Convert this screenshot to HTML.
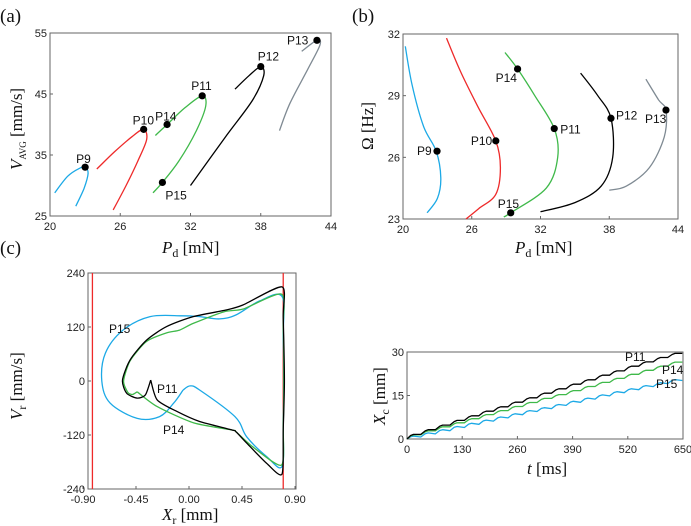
<!DOCTYPE html>
<html><head><meta charset="utf-8">
<style>
html,body{margin:0;padding:0;background:#fff;}
svg{display:block;}
.tk{font-family:"Liberation Sans",sans-serif;font-size:11px;fill:#222;}
.pl{font-family:"Liberation Sans",sans-serif;font-size:12px;fill:#111;}
.ax{font-family:"Liberation Serif",serif;font-size:17px;fill:#111;}
.pn{font-family:"Liberation Serif",serif;font-size:19px;fill:#111;}
</style></head>
<body>
<svg id="fig" width="691" height="526" viewBox="0 0 691 526" xmlns="http://www.w3.org/2000/svg">
<text class="pn" x="0" y="22">(a)</text>
<text class="pn" x="352" y="22">(b)</text>
<text class="pn" x="0" y="254">(c)</text>
<text class="ax" x="162" y="253"><tspan font-style="italic">P</tspan><tspan font-size="12" dy="4">d</tspan><tspan dy="-4"> [mN]</tspan></text>
<text class="ax" x="515" y="253"><tspan font-style="italic">P</tspan><tspan font-size="12" dy="4">d</tspan><tspan dy="-4"> [mN]</tspan></text>
<text class="ax" transform="translate(22,170) rotate(-90)"><tspan font-style="italic">V</tspan><tspan font-size="9" dy="4">AVG</tspan><tspan dy="-4"> [mm/s]</tspan></text>
<text class="ax" transform="translate(373,150) rotate(-90)">Ω [Hz]</text>
<text class="ax" transform="translate(22,420) rotate(-90)"><tspan font-style="italic">V</tspan><tspan font-size="12" dy="4">r</tspan><tspan dy="-4"> [mm/s]</tspan></text>
<text class="ax" x="162" y="520"><tspan font-style="italic">X</tspan><tspan font-size="12" dy="4">r</tspan><tspan dy="-4"> [mm]</tspan></text>
<text class="ax" transform="translate(385,425) rotate(-90)"><tspan font-style="italic">X</tspan><tspan font-size="12" dy="4">c</tspan><tspan dy="-4"> [mm]</tspan></text>
<text class="ax" x="527" y="474"><tspan font-style="italic">t</tspan> [ms]</text>
</svg>
<script>
var NS="http://www.w3.org/2000/svg";
var svg=document.getElementById('fig');
// ---- Panel (a) data ----
var aXTicks=[20,26,32,38,44];
var aYTicks=[25,35,45,55];
var aBlueX=[20.4,21.5,22.5,23.0,23.25,22.9,22.2];
var aBlueY=[28.8,31.5,32.8,33.0,32.0,29.5,26.6];
var aRedX=[24.0,25.5,27.0,28.0,28.25,27.5,26.5,25.4];
var aRedY=[32.7,35.5,38.0,39.2,37.5,34.0,30.0,26.0];
var aGreenX=[29.0,30.0,31.5,33.0,33.3,32.5,31.0,29.6,28.8];
var aGreenY=[38.2,40.0,42.7,44.7,43.0,39.0,34.0,30.5,28.8];
var aBlackX=[35.8,37.0,38.0,38.25,37.3,35.0,32.0];
var aBlackY=[45.8,48.0,49.5,48.0,44.0,38.0,30.0];
var aGrayX=[41.5,42.8,43.05,42.0,40.5,39.6];
var aGrayY=[52.0,53.8,53.0,49.0,43.5,39.0];
var aPtNames=['P9','P10','P14','P11','P12','P13','P15'];
var aPtX=[23.0,28.0,30.0,33.0,38.0,42.8,29.6];
var aPtY=[33.0,39.2,40.0,44.7,49.5,53.8,30.5];
// ---- Panel (b) data ----
var bXTicks=[20,26,32,38,44];
var bYTicks=[23,26,29,32];
var bBlueX=[20.2,20.8,21.8,22.9,23.3,23.0,22.1];
var bBlueY=[31.4,29.5,27.5,26.3,25.0,24.0,23.3];
var bRedX=[23.8,25.0,26.5,28.1,28.5,28.1,26.6,25.5];
var bRedY=[31.8,30.2,28.5,26.8,25.5,24.2,23.5,23.0];
var bGreenX=[28.9,30.0,31.5,33.2,33.5,32.5,29.4,28.8];
var bGreenY=[31.1,30.3,29.0,27.4,26.0,24.5,23.3,23.1];
var bBlackX=[35.5,37.0,38.15,38.3,37.3,35.0,32.0];
var bBlackY=[30.1,29.0,27.9,26.0,24.6,23.8,23.35];
var bGrayX=[41.2,42.3,42.95,42.8,41.5,39.5,38.0];
var bGrayY=[29.8,28.8,28.3,27.0,25.5,24.6,24.4];
var bPtNames=['P9','P10','P14','P11','P12','P13','P15'];
var bPtX=[22.97,28.1,30.0,33.2,38.15,42.95,29.4];
var bPtY=[26.3,26.8,30.3,27.4,27.9,28.3,23.3];
// ---- Panel (c) data ----
var cXTicks=[-0.90,-0.45,0.00,0.45,0.90];
var cYTicks=[-240,-120,0,120,240];
var cWalls=[-0.82,0.80];
var cBlackX=[-0.325,-0.27,-0.10,0.09,0.37,0.40,0.49,0.66,0.79,0.80,0.81,0.80,0.79,0.46,0.32,0.036,-0.19,-0.36,-0.50,-0.565,-0.53,-0.44,-0.37,-0.325];
var cBlackY=[2,-42,-68,-90,-109,-113,-138,-183,-207,-109,0,142,209,169,158,143,121,91,47,2,-27,-38,-31,2];
var cGreenX=[-0.44,-0.27,0.04,0.37,0.40,0.54,0.785,0.80,0.805,0.80,0.785,0.46,0.30,0.036,-0.08,-0.19,-0.36,-0.50,-0.555,-0.52,-0.48,-0.44];
var cGreenY=[-24,-57,-93,-109,-113,-146,-187,-100,0,120,193,160,154,128,113,107,88,45,0,-25,-30,-24];
var cBlueX=[-0.05,0.01,0.09,0.39,0.49,0.66,0.79,0.80,0.805,0.80,0.79,0.60,0.40,0.26,0.09,-0.06,-0.33,-0.56,-0.71,-0.74,-0.67,-0.44,-0.25,-0.13,-0.05];
var cBlueY=[-20,-11,-20,-79,-124,-168,-190,-100,0,100,188,178,147,138,143,145,143,113,62,0,-49,-83,-79,-49,-20];
// ---- Panel (d) data ----
var dXTicks=[0,130,260,390,520,650];
var dYTicks=[0,15,30];
var dBlack=[1.6,3.2,4.8,6.4,8.0,9.6,11.1,12.7,14.2,15.8,17.3,18.9,20.4,22.0,23.5,25.1,26.6,28.1,29.5];
var dGreen=[1.4,2.8,4.2,5.6,7.0,8.4,9.8,11.2,12.6,14.0,15.3,16.7,18.1,19.5,20.9,22.3,23.7,25.1,26.5];
var dBlue=[1.0,2.1,3.2,4.3,5.4,6.5,7.6,8.7,9.8,10.8,11.9,13.0,14.1,15.2,16.3,17.3,18.4,19.4,20.5];

var BLUE='#1ca9e6',RED='#ee2a2a',GREEN='#3fb94a',BLACK='#000',GRAY='#7f8a93';
function el(tag,attrs,parent){var e=document.createElementNS(NS,tag);for(var k in attrs)e.setAttribute(k,attrs[k]);(parent||svg).appendChild(e);return e;}
function lin(d0,d1,p0,p1){return function(v){return p0+(v-d0)*(p1-p0)/(d1-d0);};}
function smooth(pts,k){
  k=k||(1/6);
  var d='M'+pts[0][0].toFixed(1)+','+pts[0][1].toFixed(1);
  for(var i=0;i<pts.length-1;i++){
    var p0=pts[i-1]||pts[i],p1=pts[i],p2=pts[i+1],p3=pts[i+2]||p2;
    var c1=[p1[0]+(p2[0]-p0[0])*k,p1[1]+(p2[1]-p0[1])*k];
    var c2=[p2[0]-(p3[0]-p1[0])*k,p2[1]-(p3[1]-p1[1])*k];
    d+='C'+c1[0].toFixed(1)+','+c1[1].toFixed(1)+' '+c2[0].toFixed(1)+','+c2[1].toFixed(1)+' '+p2[0].toFixed(1)+','+p2[1].toFixed(1);
  }
  return d;
}
function curve(xs,ys,sx,sy,color,name,k){
  var pts=xs.map(function(x,i){return [sx(x),sy(ys[i])];});
  var p=el('path',{d:smooth(pts,k),fill:'none',stroke:color,'stroke-width':1.3,'stroke-linejoin':'round'});
  
  
  return p;
}
function frame(x0,y0,x1,y1,name){
  var r=el('rect',{x:x0,y:y0,width:x1-x0,height:y1-y0,fill:'none',stroke:'#666','stroke-width':1});
  
  
}
function xticks(ticks,sx,y0,y1,name,fmt){
  ticks.forEach(function(t){
    var x=sx(t);
    var l=el('line',{x1:x,x2:x,y1:y1,y2:y1-3,stroke:'#666'});
    
    
    var tx=el('text',{x:x,y:y1+14,'text-anchor':'middle','class':'tk'});
    tx.textContent=fmt?fmt(t):String(t);
    
    
  });
}
function yticks(ticks,sy,x0,name){
  ticks.forEach(function(t){
    var y=sy(t);
    var l=el('line',{x1:x0,x2:x0+3,y1:y,y2:y,stroke:'#666'});
    
    
    var tx=el('text',{x:x0-3,y:y+4,'text-anchor':'end','class':'tk'});
    tx.textContent=String(t);
    
    
  });
}
function dots(names,xs,ys,sx,sy,offs,panel){
  names.forEach(function(n,i){
    var c=el('circle',{cx:sx(xs[i]),cy:sy(ys[i]),r:3.6,fill:'#000'});
    
    
    var t=el('text',{x:sx(xs[i])+offs[i][0],y:sy(ys[i])+offs[i][1],'class':'pl'});
    t.textContent=n;
    
    
  });
}
// Panel a
(function(){
  var sx=lin(20,44,50,331),sy=lin(25,55,216,33);
  frame(50,33,331,216,'panel-a-frame');
  xticks(aXTicks,sx,33,216,'panel-a-x');
  yticks(aYTicks,sy,50,'panel-a-y');
  curve(aBlueX,aBlueY,sx,sy,BLUE,'panel-a-curve-p9');
  curve(aRedX,aRedY,sx,sy,RED,'panel-a-curve-p10');
  curve(aGreenX,aGreenY,sx,sy,GREEN,'panel-a-curve-p11');
  curve(aBlackX,aBlackY,sx,sy,BLACK,'panel-a-curve-p12');
  curve(aGrayX,aGrayY,sx,sy,GRAY,'panel-a-curve-p13');
  dots(aPtNames,aPtX,aPtY,sx,sy,[[-9,-4],[-11,-5],[-12,-4],[-11,-6],[-3,-6],[-30,4],[3,17]],'panel-a');
})();
// Panel b
(function(){
  var sx=lin(20,44,403,678),sy=lin(23,32,219,34);
  frame(403,34,678,219,'panel-b-frame');
  xticks(bXTicks,sx,34,219,'panel-b-x');
  yticks(bYTicks,sy,403,'panel-b-y');
  curve(bBlueX,bBlueY,sx,sy,BLUE,'panel-b-curve-p9');
  curve(bRedX,bRedY,sx,sy,RED,'panel-b-curve-p10');
  curve(bGreenX,bGreenY,sx,sy,GREEN,'panel-b-curve-p11');
  curve(bBlackX,bBlackY,sx,sy,BLACK,'panel-b-curve-p12');
  curve(bGrayX,bGrayY,sx,sy,GRAY,'panel-b-curve-p13');
  dots(bPtNames,bPtX,bPtY,sx,sy,[[-20,4],[-25,4],[-22,13],[6,5],[5,1],[-21,13],[-13,-5]],'panel-b');
})();
// Panel c
(function(){
  var sx=lin(0,0.9,189,295),sy=lin(-240,240,489,273);
  frame(88,273,296,489,'panel-c-frame');
  xticks(cXTicks,sx,273,489,'panel-c-x',function(v){return v.toFixed(2);});
  yticks(cYTicks,sy,88,'panel-c-y');
  cWalls.forEach(function(w){
    var l=el('line',{x1:sx(w),x2:sx(w),y1:273,y2:489,stroke:RED,'stroke-width':1.3});
    
    
  });
  curve(cBlueX,cBlueY,sx,sy,BLUE,'panel-c-curve-p15',1/6);
  curve(cGreenX,cGreenY,sx,sy,GREEN,'panel-c-curve-p14',0.12);
  curve(cBlackX,cBlackY,sx,sy,BLACK,'panel-c-curve-p11',0.12);
  [['P15',109,333],['P11',157,393],['P14',163,434]].forEach(function(a){
    var t=el('text',{x:a[1],y:a[2],'class':'pl'});t.textContent=a[0];
    
    
  });
})();
// Panel d
(function(){
  var sx=lin(0,650,407,683),sy=lin(0,30,439,352);
  frame(407,352,683,439,'panel-d-frame');
  xticks(dXTicks,sx,352,439,'panel-d-x');
  yticks(dYTicks,sy,407,'panel-d-y');
  function steps(vals,color,name,wavy){
    var per=650/vals.length,pts=[[0,0]],prev=0;
    vals.forEach(function(v,i){
      var t0=i*per;
      pts.push([t0+per*0.25,prev+(v-prev)*0.75]);
      pts.push([t0+per*0.45,v]);
      pts.push([t0+per*0.95,wavy?v-(v-prev)*0.3:v]);
      prev=v;
    });
    var d='';
    pts.forEach(function(p,i){d+=(i?'L':'M')+sx(p[0]).toFixed(1)+','+sy(p[1]).toFixed(1);});
    var pth=el('path',{d:d,fill:'none',stroke:color,'stroke-width':1.3,'stroke-linejoin':'round'});
    
    
  }
  steps(dBlue,BLUE,'panel-d-curve-p15',true);
  steps(dGreen,GREEN,'panel-d-curve-p14',false);
  steps(dBlack,BLACK,'panel-d-curve-p11',false);
  [['P11',625,361],['P14',662,374],['P15',656,388]].forEach(function(a){
    var t=el('text',{x:a[1],y:a[2],'class':'pl'});t.textContent=a[0];
    
    
  });
})();
</script>
</body></html>
